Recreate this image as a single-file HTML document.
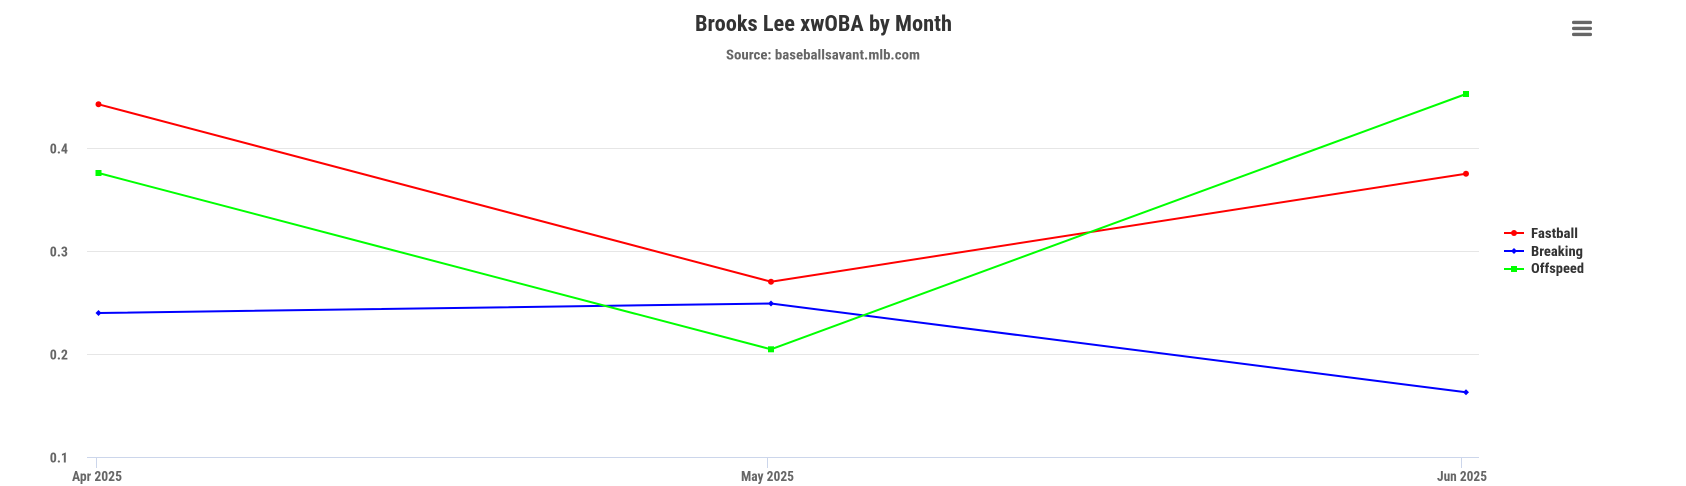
<!DOCTYPE html>
<html><head><meta charset="utf-8"><style>
html,body{margin:0;padding:0;background:#fff;}
svg{display:block;}
text{font-family:"Liberation Sans Narrow","Roboto Condensed","Liberation Sans",sans-serif;font-weight:bold;}
</style></head><body>
<svg width="1686" height="486" viewBox="0 0 1686 486" xmlns="http://www.w3.org/2000/svg">
<rect width="1686" height="486" fill="#fff"/>
<text x="695" y="31" font-size="22" fill="#333" textLength="257" lengthAdjust="spacingAndGlyphs">Brooks Lee xwOBA by Month</text>
<text x="726" y="59.5" font-size="14" fill="#666" textLength="194" lengthAdjust="spacingAndGlyphs">Source: baseballsavant.mlb.com</text>
<g fill="#666">
<rect x="1572" y="20.7" width="20" height="3.4" rx="1.6"/>
<rect x="1572" y="26.7" width="20" height="3.4" rx="1.6"/>
<rect x="1572" y="32.7" width="20" height="3.4" rx="1.6"/>
</g>
<g stroke="#e6e6e6" stroke-width="1">
<line x1="87" y1="148.5" x2="1479" y2="148.5"/>
<line x1="87" y1="251.5" x2="1479" y2="251.5"/>
<line x1="87" y1="354.5" x2="1479" y2="354.5"/>
</g>
<g stroke="#ccd6eb" stroke-width="1">
<line x1="87" y1="457.5" x2="1479" y2="457.5"/>
<line x1="96.5" y1="457.5" x2="96.5" y2="468"/>
<line x1="767.5" y1="457.5" x2="767.5" y2="468"/>
<line x1="1461.5" y1="457.5" x2="1461.5" y2="468"/>
</g>
<g font-size="14" fill="#666" text-anchor="end">
<text x="68" y="153.5">0.4</text>
<text x="68" y="256.5">0.3</text>
<text x="68" y="359.5">0.2</text>
<text x="68" y="462.5">0.1</text>
</g>
<g font-size="14" fill="#666">
<text x="72" y="481" textLength="50" lengthAdjust="spacingAndGlyphs">Apr 2025</text>
<text x="741" y="481" textLength="53" lengthAdjust="spacingAndGlyphs">May 2025</text>
<text x="1437" y="481" textLength="50" lengthAdjust="spacingAndGlyphs">Jun 2025</text>
</g>
<g fill="none" stroke-width="2" stroke-linejoin="round" stroke-linecap="round">
<polyline stroke="#ff0000" points="98.5,104.3 771,281.7 1466,173.7"/>
<polyline stroke="#0000ff" points="98.5,313 771,303.5 1466,392.3"/>
<polyline stroke="#00ff00" points="98.5,173 771,349.3 1466,94"/>
</g>
<g fill="#ff0000">
<circle cx="98.5" cy="104.3" r="3"/><circle cx="771" cy="281.7" r="3"/><circle cx="1466" cy="173.7" r="3"/>
</g>
<g fill="#0000ff">
<path d="M98.5 310 L101.5 313 L98.5 316 L95.5 313Z"/>
<path d="M771 300.5 L774 303.5 L771 306.5 L768 303.5Z"/>
<path d="M1466 389.3 L1469 392.3 L1466 395.3 L1463 392.3Z"/>
</g>
<g fill="#00ff00">
<rect x="95.5" y="170" width="6" height="6"/>
<rect x="768" y="346.3" width="6" height="6"/>
<rect x="1463" y="91" width="6" height="6"/>
</g>
<g stroke-width="2">
<line x1="1504" y1="233" x2="1524" y2="233" stroke="#ff0000"/>
<circle cx="1514" cy="233" r="3" fill="#ff0000"/>
<line x1="1504" y1="251" x2="1524" y2="251" stroke="#0000ff"/>
<path d="M1514 248 L1517 251 L1514 254 L1511 251Z" fill="#0000ff"/>
<line x1="1504" y1="269" x2="1524" y2="269" stroke="#00ff00"/>
<rect x="1511" y="266" width="6" height="6" fill="#00ff00"/>
</g>
<g font-size="14" fill="#333">
<text x="1531" y="238" textLength="47" lengthAdjust="spacingAndGlyphs">Fastball</text>
<text x="1531" y="256" textLength="52" lengthAdjust="spacingAndGlyphs">Breaking</text>
<text x="1531" y="273" textLength="53" lengthAdjust="spacingAndGlyphs">Offspeed</text>
</g>
</svg>
</body></html>
